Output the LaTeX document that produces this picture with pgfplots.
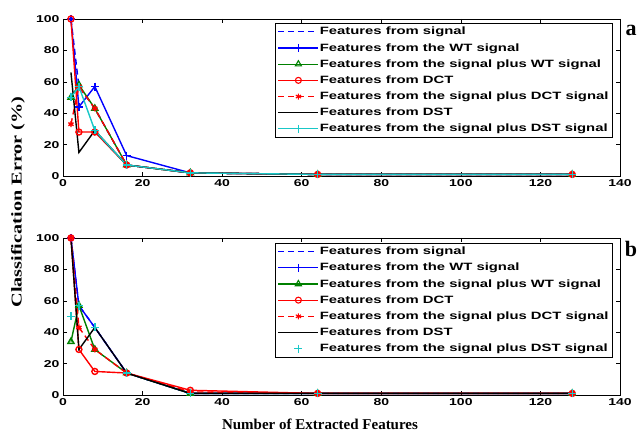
\documentclass[border=0pt]{standalone}
\usepackage{pgfplots}
\pgfplotsset{compat=1.18}
\usepackage{fontspec}
\setmainfont{Liberation Sans}
\newfontfamily\ticksfont[FakeStretch=1.4]{Liberation Sans Bold}
\newfontfamily\serifb{Liberation Serif Bold}
\newfontfamily\serifbs[FakeStretch=1.35]{Liberation Serif Bold}
\definecolor{mgreen}{rgb}{0,0.5,0}
\definecolor{mcyan}{rgb}{0.1,0.78,0.78}
\pgfplotsset{
 myaxis/.style={
  scale only axis, width=557pt, height=157pt,
  xmin=0,xmax=140,ymin=0,ymax=100,
  xtick={0,20,...,140}, ytick={0,20,...,100},
  tick align=inside, major tick length=4pt,
  tick label style={font=\ticksfont\fontsize{10}{10}\selectfont},
  /pgf/number format/assume math mode=true,
  axis line style={black, line width=0.6pt},
  every tick/.style={black, line width=0.5pt},
  legend style={font=\ticksfont\fontsize{10.6}{10.6}\selectfont,
    anchor=north east, draw=black, line width=0.6pt,
    cells={anchor=west}, row sep=5pt, inner sep=3pt,
    nodes={inner sep=1pt}},
  legend image code/.code={\draw[mark repeat=2,mark phase=2,#1,line width=1.1pt] plot coordinates {(0cm,0cm)(0.7cm,0cm)(1.4cm,0cm)};},
  every axis plot/.append style={line width=1.4pt},
 },
 sig/.style={blue, dash pattern=on 6pt off 4pt, no marks},
 wt/.style={blue, solid, mark=+, mark size=4pt, mark options={solid}},
 swt/.style={mgreen, solid, mark=triangle, mark size=3.5pt, mark options={solid}},
 dct/.style={red, solid, mark=o, mark size=3pt, mark options={solid}},
 sdct/.style={red, dash pattern=on 6pt off 4pt, mark=asterisk, mark size=3pt, mark options={solid}},
 dst/.style={black, solid, no marks},
 sdst/.style={mcyan, solid, mark=+, mark size=4pt, mark options={solid}},
}
\begin{document}
\begin{tikzpicture}
\useasboundingbox (0,0) rectangle (639pt,435pt);
% ---------- panel a ----------
\begin{axis}[myaxis, at={(63pt,259pt)}, anchor=south west,
  legend style={at={(0.987,0.975)}}]
\addplot[sig] coordinates {(2,100)(4,57)(8,43)(16,7)(32,2)(64,1)(128,1)};
\addplot[wt] coordinates {(2,100)(4,44)(8,57)(16,13)(32,2)(64,1)(128,1)};
\addplot[swt] coordinates {(2,50)(4,58)(8,43)(16,7)(32,2)(64,1)(128,1)};
\addplot[dct] coordinates {(2,100)(4,28)(8,28)(16,7)(32,2)(64,1)(128,1)};
\addplot[sdct] coordinates {(2,33)(4,57)(8,43)(16,7)(32,2)(64,1)(128,1)};
\addplot[dst] coordinates {(2,66)(4,15)(8,29)(16,7)(32,2)(64,1)(128,1)};
\addplot[sdst] coordinates {(2,50)(4,57)(8,29)(16,7)(32,2)(64,1)(128,1)};
\legend{Features from signal, Features from the WT signal, Features from the signal plus WT signal, Features from DCT, Features from the signal plus DCT signal, Features from DST, Features from the signal plus DST signal}
\end{axis}
% ---------- panel b ----------
\begin{axis}[myaxis, at={(63pt,40pt)}, anchor=south west,
  legend style={at={(0.987,0.97)}}]
\addplot[sig] coordinates {(2,100)(4,57)(8,43)(16,14)(32,1)(64,1)(128,1)};
\addplot[wt] coordinates {(2,100)(4,57)(8,43)(16,14)(32,1)(64,1)(128,1)};
\addplot[swt] coordinates {(2,34)(4,57)(8,29)(16,14)(32,1)(64,1)(128,1)};
\addplot[dct] coordinates {(2,100)(4,29)(8,15)(16,14)(32,3)(64,1)(128,1)};
\addplot[sdct] coordinates {(2,100)(4,43)(8,29)(16,14)(32,2)(64,1)(128,1)};
\addplot[dst] coordinates {(2,100)(4,29)(8,43)(16,14)(32,1)(64,1)(128,1)};
\addplot[sdst, only marks] coordinates {(2,50)(4,57)(8,43)(16,14)(32,1)(64,1)(128,1)};
\legend{Features from signal, Features from the WT signal, Features from the signal plus WT signal, Features from DCT, Features from the signal plus DCT signal, Features from DST, Features from the signal plus DST signal}
\end{axis}
\node[font=\serifb\fontsize{22}{22}\selectfont] at (631pt,405pt) {a};
\node[font=\serifb\fontsize{22}{22}\selectfont] at (631pt,186pt) {b};
\node[font=\serifbs\fontsize{15}{15}\selectfont, rotate=90] at (18pt,233pt) {Classification Error (\%)};
\node[font=\serifb\fontsize{15}{15}\selectfont] at (320pt,11pt) {Number of Extracted Features};
\end{tikzpicture}
\end{document}
